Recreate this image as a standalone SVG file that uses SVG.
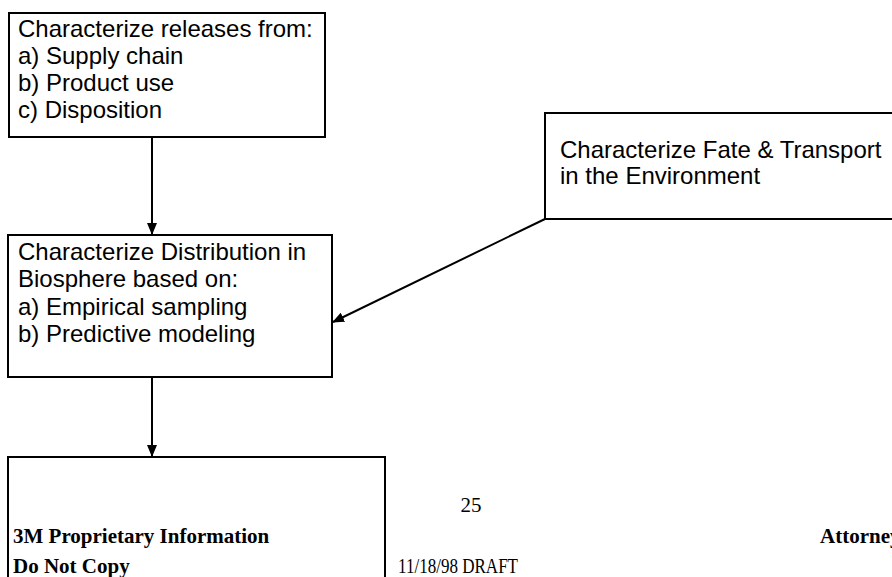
<svg xmlns="http://www.w3.org/2000/svg" width="892" height="577" viewBox="0 0 892 577">
<defs>
<marker id="ah" markerWidth="12" markerHeight="10" refX="11" refY="5" orient="auto" markerUnits="userSpaceOnUse">
<path d="M0,0 L12,5 L0,10 Z" fill="#000"/>
</marker>
<style>
.box{fill:#fff;stroke:#000;stroke-width:2}
.t{font-family:"Liberation Sans",Arial,sans-serif;font-size:24px;fill:#000}
.f{font-family:"Liberation Serif","Times New Roman",serif;font-size:21px;fill:#000}
.b{font-weight:bold}
.c{stroke:#000;stroke-width:2;fill:none;marker-end:url(#ah)}
</style>
</defs>
<rect width="892" height="577" fill="#fff"/>
<g id="connectors">
<line class="c" x1="152" y1="137" x2="152" y2="234"/>
<line class="c" x1="545" y1="219" x2="333" y2="322"/>
<line class="c" x1="152" y1="378" x2="152" y2="456"/>
</g>
<g id="releases">
<rect class="box" x="9" y="13" width="316" height="124"/>
<text class="t" x="18" y="37">Characterize releases from:</text>
<text class="t" x="18" y="64">a) Supply chain</text>
<text class="t" x="18" y="91">b) Product use</text>
<text class="t" x="18" y="118">c) Disposition</text>
</g>
<g id="fate">
<rect class="box" x="545" y="113" width="360" height="106"/>
<text class="t" x="560" y="158">Characterize Fate &amp; Transport</text>
<text class="t" x="560" y="184">in the Environment</text>
</g>
<g id="distribution">
<rect class="box" x="8" y="235" width="324" height="142"/>
<text class="t" x="18" y="260">Characterize Distribution in</text>
<text class="t" x="18" y="287">Biosphere based on:</text>
<text class="t" x="18" y="315">a) Empirical sampling</text>
<text class="t" x="18" y="342">b) Predictive modeling</text>
</g>
<g id="next">
<rect class="box" x="8" y="457" width="377" height="140"/>
</g>
<g id="footer">
<text class="f" x="471" y="512" text-anchor="middle">25</text>
<text class="f b" x="13" y="543">3M Proprietary Information</text>
<text class="f b" x="13" y="573">Do Not Copy</text>
<text class="f" x="398" y="573" textLength="120" lengthAdjust="spacingAndGlyphs">11/18/98 DRAFT</text>
<text class="f b" x="820" y="543">Attorney</text>
</g>
</svg>
